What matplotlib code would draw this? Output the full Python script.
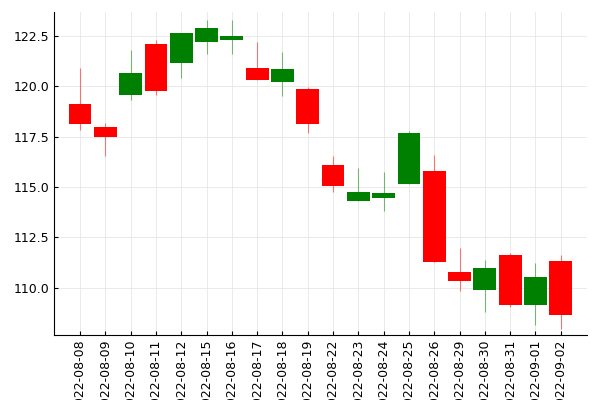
import matplotlib
matplotlib.use("Agg")
import matplotlib.pyplot as plt
import numpy as np

dates = ["2022-08-08", "2022-08-09", "2022-08-10", "2022-08-11", "2022-08-12",
         "2022-08-15", "2022-08-16", "2022-08-17", "2022-08-18", "2022-08-19",
         "2022-08-22", "2022-08-23", "2022-08-24", "2022-08-25", "2022-08-26",
         "2022-08-29", "2022-08-30", "2022-08-31", "2022-09-01", "2022-09-02"]
opens = [119.13, 117.99, 119.57, 122.10, 121.16, 122.20, 122.30, 120.91, 120.22, 119.87,
         116.10, 114.32, 114.46, 115.16, 115.80, 110.79, 109.90, 111.64, 109.16, 111.34]
closes = [118.13, 117.49, 120.66, 119.77, 122.65, 122.90, 122.50, 120.32, 120.86, 118.13,
          115.06, 114.76, 114.71, 117.69, 111.29, 110.35, 110.99, 109.16, 110.55, 108.66]
highs = [120.91, 118.18, 121.80, 122.30, 122.65, 123.30, 123.30, 122.20, 121.70, 119.97,
         116.55, 115.95, 115.75, 117.79, 116.60, 111.98, 111.39, 111.74, 111.24, 111.64]
lows = [117.84, 116.55, 119.33, 119.57, 120.42, 121.60, 121.60, 120.32, 119.52, 117.69,
        114.76, 114.32, 113.82, 115.16, 111.29, 109.85, 108.81, 109.06, 108.17, 107.97]

fig = plt.figure(figsize=(6, 4), dpi=100)
ax = fig.add_axes([0.09, 0.163, 0.888, 0.807])

x = np.arange(len(dates))
for i in x:
    up = closes[i] >= opens[i]
    color = "green" if up else "red"
    ax.vlines(i, lows[i], highs[i], color=color, linewidth=0.8, alpha=0.5, zorder=2)
    lo = min(opens[i], closes[i])
    ax.bar(i, abs(closes[i] - opens[i]), bottom=lo, width=0.9, color=color, zorder=3)

ax.set_xticks(x)
ax.set_xticklabels(dates, rotation=90, fontsize=9)
ax.set_yticks([110.0, 112.5, 115.0, 117.5, 120.0, 122.5])
ax.set_yticklabels(["110.0", "112.5", "115.0", "117.5", "120.0", "122.5"], fontsize=9)
ax.set_xlim(-1.03, 20.03)
ax.set_ylim(107.67, 123.69)
ax.grid(True, color="#e6e6e6", linewidth=0.6, zorder=0)
ax.set_axisbelow(True)
ax.tick_params(direction="in", length=3)
for s in ["top", "right"]:
    ax.spines[s].set_visible(False)

fig.savefig("out.png", dpi=100)
